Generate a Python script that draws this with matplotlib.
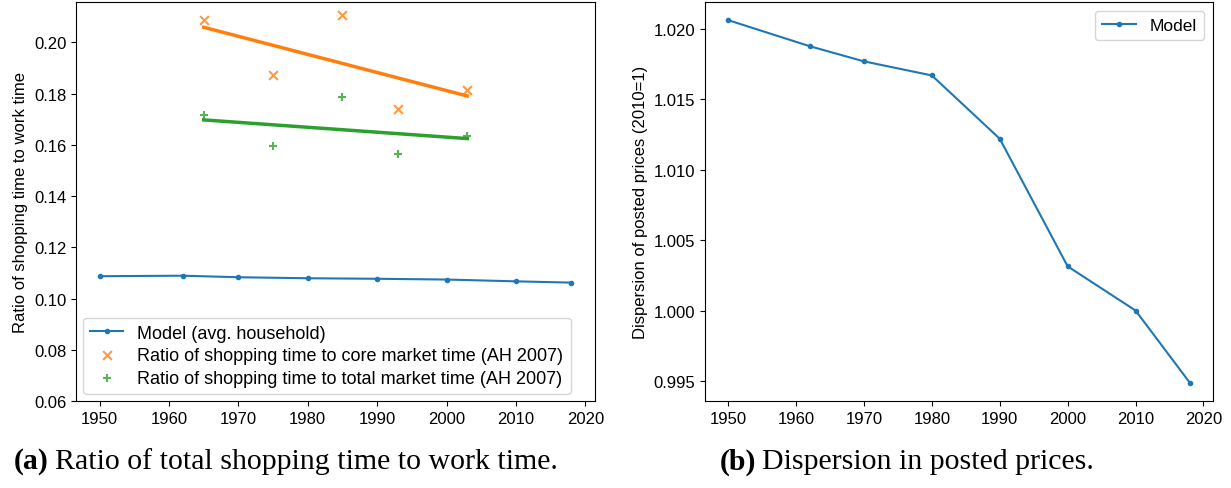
import numpy as np
import matplotlib
matplotlib.use('Agg')
import matplotlib.pyplot as plt

plt.rcParams['font.family'] = ['Liberation Sans', 'DejaVu Sans']

# model series (both panels share the same years)
years = [1950, 1962, 1970, 1980, 1990, 2000, 2010, 2018]
ratio_model = [0.1087, 0.1089, 0.1083, 0.1079, 0.1077, 0.1074, 0.1067, 0.1062]
dispersion = [1.02064, 1.01879, 1.01771, 1.01671, 1.01221, 1.00314, 1.0000, 0.99486]

# Aguiar & Hurst (2007) data points
ah_years = [1965, 1975, 1985, 1993, 2003]
ah_core = [0.2086, 0.1874, 0.2105, 0.1738, 0.1812]
ah_total = [0.1716, 0.1597, 0.1788, 0.1565, 0.1635]

fig = plt.figure(figsize=(12.31, 4.89), dpi=100)
ax1 = fig.add_axes([76 / 1231, 1 - 402 / 489, 519 / 1231, 399 / 489])
ax2 = fig.add_axes([705 / 1231, 1 - 402 / 489, 508 / 1231, 399 / 489])

ax1.plot(years, ratio_model, marker='.', color='C0', lw=1.5, ms=6, label='Model (avg. household)')
ax1.scatter(ah_years, ah_core, marker='x', color='C1', alpha=0.8, s=40,
            label='Ratio of shopping time to core market time (AH 2007)')
ax1.scatter(ah_years, ah_total, marker='+', color='C2', alpha=0.8, s=40,
            label='Ratio of shopping time to total market time (AH 2007)')

# linear trends through the AH points
x_fit = np.array([ah_years[0], ah_years[-1]])
b1, b0 = np.polyfit(ah_years, ah_core, 1)
ax1.plot(x_fit, b0 + b1 * x_fit, color='C1', lw=2.5)
b1, b0 = np.polyfit(ah_years, ah_total, 1)
ax1.plot(x_fit, b0 + b1 * x_fit, color='C2', lw=2.5)

ax1.set_ylim(bottom=0.06)
ax1.set_xticks(range(1950, 2030, 10))
ax1.set_ylabel('Ratio of shopping time to work time', fontsize=12)
ax1.tick_params(labelsize=12)
ax1.legend(loc='lower left', fontsize=13, handlelength=1.8, borderaxespad=0.4,
           labelspacing=0.3)

ax2.plot(years, dispersion, marker='.', color='C0', lw=1.5, ms=6, label='Model')
ax2.set_xticks(range(1950, 2030, 10))
ax2.set_ylabel('Dispersion of posted prices (2010=1)', fontsize=12)
ax2.tick_params(labelsize=12)
ax2.legend(loc='upper right', fontsize=12.5)

# sub-figure captions, bold letter followed by the text
cap = dict(fontsize=21.5, family=['Liberation Serif', 'DejaVu Serif'], va='center')
renderer = fig.canvas.get_renderer()
for x0, tag, txt in [(14, '(a)', 'Ratio of total shopping time to work time.'),
                     (720, '(b)', 'Dispersion in posted prices.')]:
    t = fig.text(x0 / 1231, 1 - 462 / 489, tag, fontweight='bold', ha='left', **cap)
    bb = t.get_window_extent(renderer)
    fig.text((bb.x1 + 6) / 1231, 1 - 462 / 489, txt, ha='left', **cap)

fig.savefig('out.png', dpi=100)
